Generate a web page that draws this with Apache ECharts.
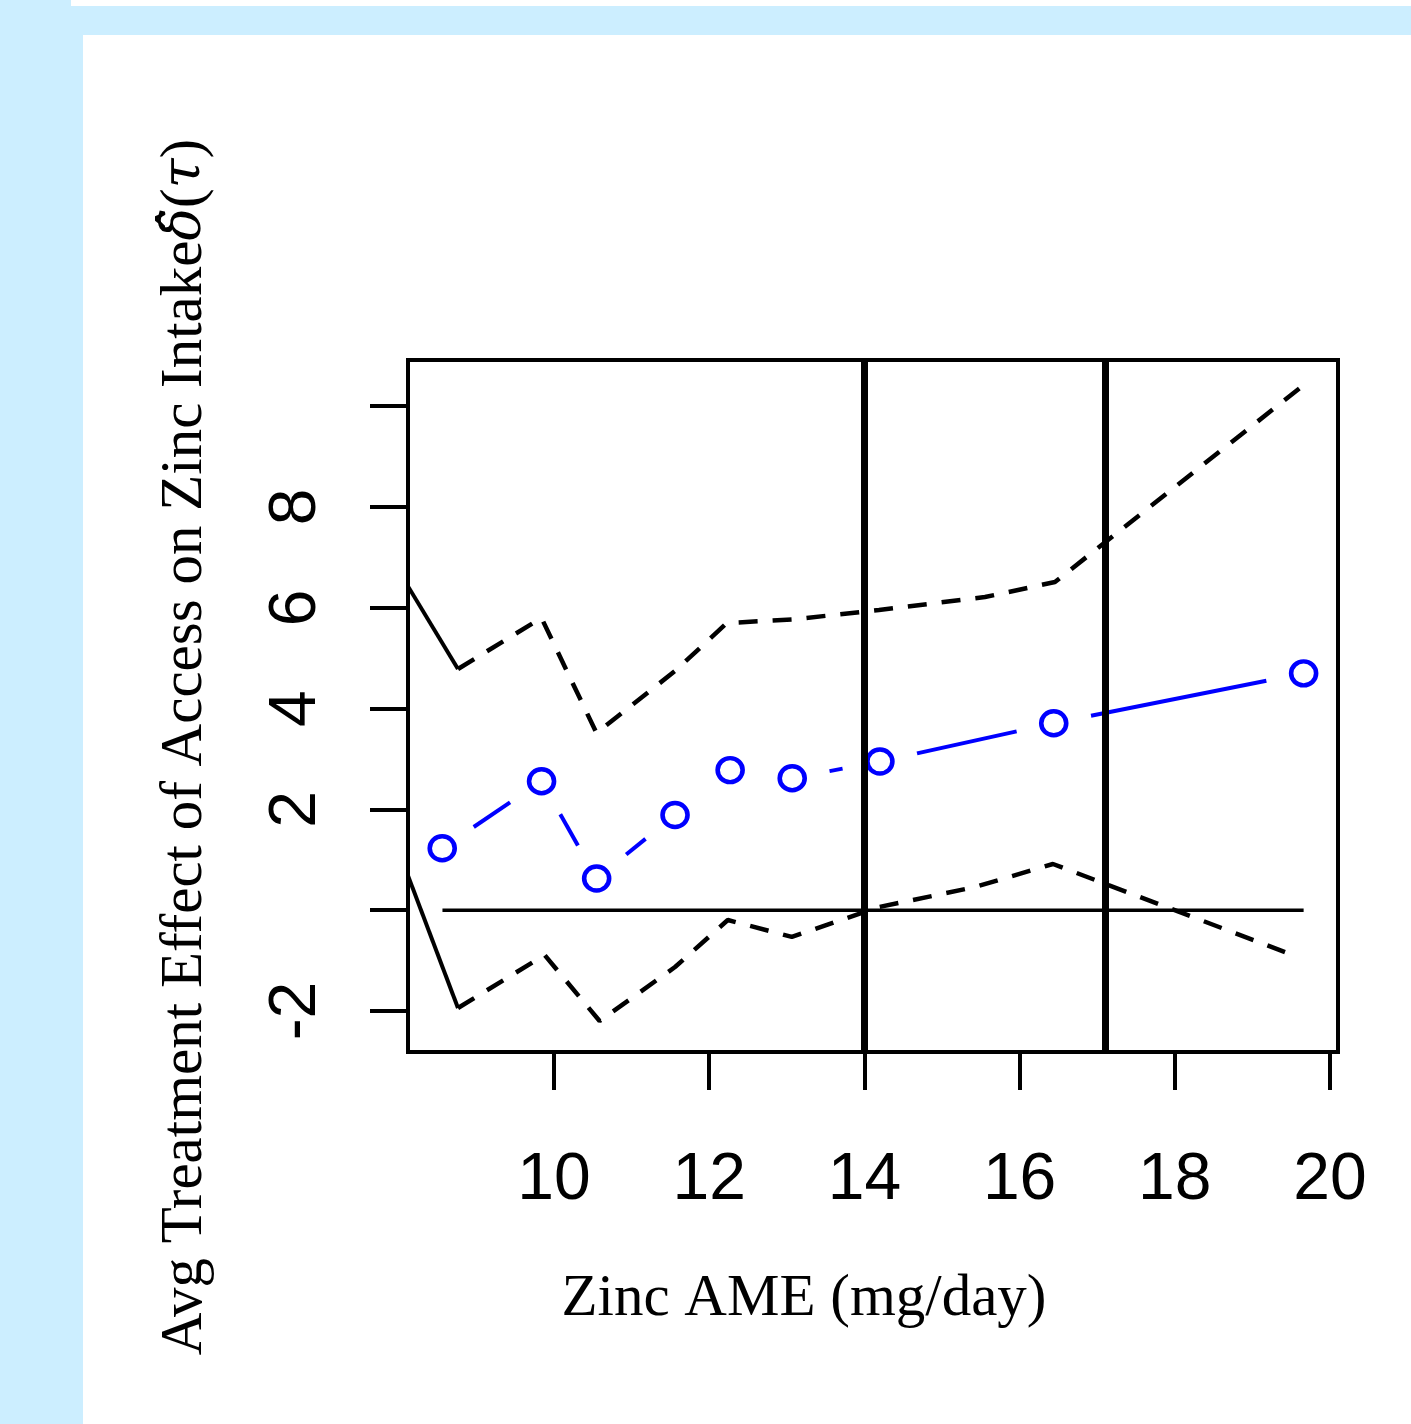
<!DOCTYPE html>
<html>
<head>
<meta charset="utf-8">
<script src="https://cdn.jsdelivr.net/npm/echarts@6/dist/echarts.min.js"></script>
<style>
    html, body { margin: 0; padding: 0; width: 1411px; height: 1424px; background: #cceeff; overflow: hidden; }
    #topStrip { position: absolute; left: 71px; top: 0; width: 1340px; height: 6px; background: #fff; }
    #chart { position: absolute; left: 83px; top: 35px; width: 1328px; height: 1389px; background: #fff; }
</style>
</head>
<body>
<div id="topStrip"></div>
<div id="chart"></div>
<script>
    'use strict';

    // point estimates (blue "o")
    var zincX = [8.56, 9.84, 10.55, 11.56, 12.27, 13.07, 14.2, 16.44, 19.66];
    var effectY = [1.23, 2.56, 0.63, 1.89, 2.78, 2.62, 2.95, 3.71, 4.70];

    // upper / lower bands (dashed)
    var upperX = [8.763, 9.839, 10.548, 11.56, 12.227, 13.065, 14.188, 15.554, 16.456, 19.66];
    var upperY = [4.786, 5.80, 3.516, 4.746, 5.698, 5.768, 5.956, 6.214, 6.512, 10.42];
    var lowerX = [8.763, 9.88, 10.588, 11.56, 12.24, 13.065, 14.19, 15.425, 16.43, 19.42];
    var lowerY = [-1.94, -0.889, -2.198, -1.127, -0.194, -0.53, 0.063, 0.46, 0.917, -0.83];

    // solid first pieces of the bands (start left of the box, clipped)
    var upperLeadX = [8.0, 8.763];
    var upperLeadY = [6.73, 4.786];
    var lowerLeadX = [8.0, 8.763];
    var lowerLeadY = [1.17, -1.94];

    // horizontal zero line over data range, vertical cutoffs
    var zeroX = [8.563, 19.66];
    var cutoffX = [14, 17.1];

    // axis ticks / labels
    var xTicks = [10, 12, 14, 16, 18, 20];
    var yTicks = [-2, 0, 2, 4, 6, 8, 10];
    var yLabels = [-2, 2, 4, 6, 8];

    var xTitle = 'Zinc AME (mg/day)';
    var yTitle = 'Avg Treatment Effect of Access on Zinc Intake';

    function zip(xs, ys) {
        var out = [];
        for (var i = 0; i < xs.length; i++) {
            out.push([xs[i], ys[i]]);
        }
        return out;
    }

    // segments between points, type="b" style (gap around each point)
    var segData = [];
    for (var i = 0; i < zincX.length - 1; i++) {
        segData.push([zincX[i], effectY[i], zincX[i + 1], effectY[i + 1]]);
    }

    function renderGapSegment(params, api) {
        var p1 = api.coord([api.value(0), api.value(1)]);
        var p2 = api.coord([api.value(2), api.value(3)]);
        var dx = p2[0] - p1[0];
        var dy = p2[1] - p1[1];
        var len = Math.sqrt(dx * dx + dy * dy);
        var gap = 38;
        if (len <= 2 * gap) {
            return {type: 'group', children: []};
        }
        var ux = dx / len, uy = dy / len;
        return {
            type: 'line',
            shape: {
                x1: p1[0] + ux * gap, y1: p1[1] + uy * gap,
                x2: p2[0] - ux * gap, y2: p2[1] - uy * gap
            },
            style: {stroke: '#0000ff', lineWidth: 4}
        };
    }

    var sansFont = '"Liberation Sans", Arial, sans-serif';
    var serifFont = '"Liberation Serif", "Times New Roman", serif';
    var mathFont = '"DejaVu Serif", serif';
    var dash = [19, 15];

    var chart = echarts.init(document.getElementById('chart'));
    var option = {
        animation: false,
        grid: {
            show: true, left: 325, top: 325, width: 930, height: 692,
            borderColor: '#000', borderWidth: 4, backgroundColor: 'transparent'
        },
        xAxis: {
            type: 'value', min: 8.119, max: 20.103,
            axisLine: {show: false, onZero: false},
            splitLine: {show: false},
            axisTick: {show: true, customValues: xTicks, length: 38, lineStyle: {color: '#000', width: 4}},
            axisLabel: {
                customValues: xTicks, margin: 96, fontSize: 66, lineHeight: 66,
                fontFamily: sansFont, color: '#000'
            }
        },
        yAxis: {
            type: 'value', min: -2.813, max: 10.917,
            axisLine: {show: false, onZero: false},
            splitLine: {show: false},
            axisTick: {show: true, customValues: yTicks, length: 38, lineStyle: {color: '#000', width: 4}},
            axisLabel: {
                customValues: yLabels, rotate: 90, margin: 78, fontSize: 66, lineHeight: 66,
                fontFamily: sansFont, color: '#000'
            }
        },
        graphic: [
            {
                type: 'text', x: 102, y: 712, rotation: Math.PI / 2, silent: true,
                style: {
                    text: yTitle + '{m|δ̂}(' + '{m|τ})',
                    font: '59px ' + serifFont,
                    fill: '#000',
                    align: 'center', verticalAlign: 'middle',
                    textAlign: 'center', textVerticalAlign: 'middle',
                    rich: {m: {fontStyle: 'italic', fontSize: 54, fontFamily: mathFont, fill: '#000'}}
                }
            },
            {
                type: 'text', x: 721, y: 1264, silent: true,
                style: {
                    text: xTitle,
                    font: '59px ' + serifFont,
                    fill: '#000',
                    align: 'center', verticalAlign: 'middle',
                    textAlign: 'center', textVerticalAlign: 'middle'
                }
            }
        ],
        series: [
            {
                type: 'line', data: zip(upperLeadX, upperLeadY), symbol: 'none', clip: true,
                lineStyle: {color: '#000', width: 4, type: 'solid'}, z: 2
            },
            {
                type: 'line', data: zip(lowerLeadX, lowerLeadY), symbol: 'none', clip: true,
                lineStyle: {color: '#000', width: 4, type: 'solid'}, z: 2
            },
            {
                type: 'line', data: zip(upperX, upperY), symbol: 'none',
                lineStyle: {color: '#000', width: 4.5, type: dash, cap: 'butt'}, z: 2
            },
            {
                type: 'line', data: zip(lowerX, lowerY), symbol: 'none',
                lineStyle: {color: '#000', width: 4.5, type: dash, cap: 'butt'}, z: 2
            },
            {
                type: 'custom', data: segData, renderItem: renderGapSegment,
                encode: {x: [0, 2], y: [1, 3]}, clip: false, z: 3
            },
            {
                type: 'scatter', data: zip(zincX, effectY), symbol: 'circle', symbolSize: [25, 24],
                itemStyle: {color: '#fff', borderColor: '#0000ff', borderWidth: 4.5, opacity: 1}, z: 3
            },
            {
                type: 'line', data: zip(zeroX, [0, 0]), symbol: 'none',
                lineStyle: {color: '#000', width: 3.5, type: 'solid'}, z: 5,
                markLine: {
                    silent: true, symbol: ['none', 'none'], label: {show: false},
                    lineStyle: {color: '#000', width: 7, type: 'solid'},
                    data: cutoffX.map(function (v) { return {xAxis: v}; })
                }
            }
        ]
    };
    chart.setOption(option);
</script>
</body>
</html>
